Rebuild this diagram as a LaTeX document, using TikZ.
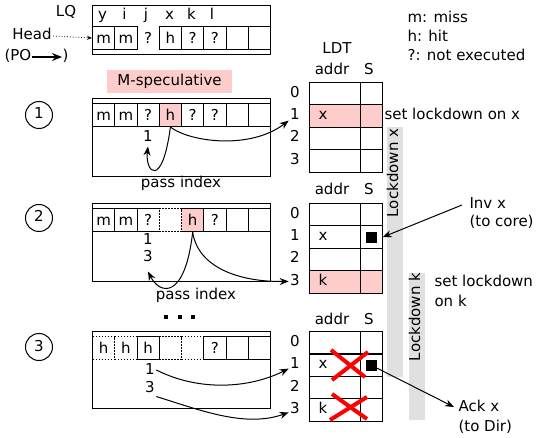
\documentclass[tikz,border=0pt]{standalone}
\usepackage{fontspec}
\setmainfont{DejaVu Sans}
\usetikzlibrary{arrows.meta}
\definecolor{specpink}{RGB}{255,204,204}
\definecolor{bargray}{RGB}{224,224,224}
\begin{document}
\begin{tikzpicture}[x=1pt,y=-1pt,
  font=\fontsize{15}{18}\selectfont,
  line width=1.1pt,
  every node/.style={inner sep=1pt, text height=11pt, text depth=3pt},
  cell/.style={draw, minimum width=22.25pt, minimum height=23pt, inner sep=0pt,
               anchor=north west, text height=11pt, text depth=0pt},
  bare/.style={cell, draw=none},
  pinkcell/.style={cell, fill=specpink},
  dotcell/.style={cell, dash pattern=on 1.5pt off 1.5pt},
  dotgap/.style={dotcell, preaction={draw=white, solid, line width=1.6pt}},
  queue/.style={draw, minimum width=178pt, inner sep=0pt, anchor=north west,
                text height=0pt, text depth=0pt},
  addrc/.style={draw, minimum width=50.5pt, minimum height=22.4pt, inner sep=0pt,
                anchor=north west, text height=0pt, text depth=0pt},
  sc/.style={addrc, minimum width=22pt},
  blk/.style={fill=black, minimum size=11pt, inner sep=0pt, text height=0pt, text depth=0pt},
  dotsq/.style={fill=black, minimum size=4.5pt, inner sep=0pt, text height=0pt, text depth=0pt},
  stepno/.style={circle, draw, line width=1pt, minimum size=27pt, inner sep=0pt},
  bar/.style={fill=bargray, minimum width=16pt, inner sep=0pt, anchor=north west,
              text height=0pt, text depth=0pt},
  arr/.style={-{Stealth[length=9pt,width=7pt]}, line width=1pt},
  redx/.style={red, line width=4pt}
]
\useasboundingbox (0,0) rectangle (538,438);

% lockdown periods (background)
\node[bar, minimum height=250pt] (barx) at (386,126) {};
\node[bar, minimum height=147pt] (bark) at (408,272) {};
\node[rotate=90] (ldx) at (394,173) {Lockdown x};
\node[rotate=90] (ldk) at (416,317) {Lockdown k};

% ---------- load queue in program order ----------
\node (lqname) at (66,13) {LQ};
\node[queue, minimum height=49pt] (lq0) at (92,5) {};
\node (ny) at (102.5,16) {y};
\node (ni) at (124.5,16) {i};
\node (nj) at (146,16) {j};
\node (nx) at (169.5,16) {x};
\node (nk) at (191.5,16) {k};
\node (nl) at (212,16) {l};
\node[cell] (q0a) at (92,26) {m};
\node[cell] (q0b) at (114.25,26) {m};
\node[bare] (q0c) at (136.5,26) {?};
\node[cell] (q0d) at (158.75,26) {h};
\node[cell] (q0e) at (181,26) {?};
\node[cell] (q0f) at (203.25,26) {?};
\node[cell] (q0g) at (225.5,26) {};
\node[cell] (q0h) at (247.75,26) {};
\node (head) at (32,36) {Head};
\draw[line width=0.8pt, dotted, -{Stealth[length=5pt,width=4pt]}] (head.east) -- (q0a.west);
\node[anchor=west, inner sep=0pt] (po) at (4,57) {(PO};
\node[anchor=east, inner sep=0pt] (pc) at (69,57) {)};
\draw[line width=1.3pt, -{Stealth[length=10pt,width=8pt]}] (po.east) -- (pc.west);

% legend
\node[anchor=west] (lgm) at (406,19) {m: miss};
\node[anchor=west] (lgh) at (406,38) {h: hit};
\node[anchor=west] (lgq) at (406,57) {?: not executed};

\node[fill=specpink, minimum width=125pt, minimum height=23pt, inner sep=0pt] (mspec) at (169.5,81.5) {M-speculative};

% ---------- lockdown table header ----------
\node (ldt) at (337,50) {LDT};
\node (ha1) at (332,71) {addr};
\node (hs1) at (369,71) {S};

% ---------- step 1 ----------
\node[stepno] (s1) at (39,115) {1};
\node[queue, minimum height=78pt] (lq1) at (92,98) {};
\node[cell] (c1a) at (92,103) {m};
\node[cell] (c1b) at (114.25,103) {m};
\node[cell] (c1c) at (136.5,103) {?};
\node[pinkcell] (h1) at (158.75,103) {h};
\node[cell] (c1e) at (181,103) {?};
\node[cell] (c1f) at (203.25,103) {?};
\node[cell] (c1g) at (225.5,103) {};
\node[cell] (c1h) at (247.75,103) {};
\node (p1a) at (148,138) {1};
\node (pi1) at (181,184) {pass index};

\node[addrc] (a10) at (309,82) {};
\node[sc] (b10) at (359.5,82) {};
\node[addrc, fill=specpink] (a11) at (309,104.4) {};
\node[sc, fill=specpink] (b11) at (359.5,104.4) {};
\node[addrc] (a12) at (309,126.8) {};
\node[sc] (b12) at (359.5,126.8) {};
\node[addrc] (a13) at (309,149.2) {};
\node[sc] (b13) at (359.5,149.2) {};
\node (r10) at (295,93.2) {0};
\node (r11) at (295,115.6) {1};
\node (r12) at (295,138) {2};
\node (r13) at (295,160.4) {3};
\node (x1) at (323,115.6) {x};
\node[anchor=west] (setx) at (383,116) {set lockdown on x};

\draw[arr] (h1.south) .. controls (162,190) and (145,172) .. (p1a.south);
\draw[arr] (h1.south) .. controls (190,142) and (250,150) .. ([yshift=-5pt]r11.west);

% ---------- step 2 ----------
\node[stepno] (s2) at (39,218) {2};
\node (ha2) at (332,191) {addr};
\node (hs2) at (369,191) {S};
\node[queue, minimum height=78pt] (lq2) at (92,203) {};
\node[cell] (c2a) at (92,208) {m};
\node[cell] (c2b) at (114.25,208) {m};
\node[cell] (c2c) at (136.5,208) {?};
\node[pinkcell] (h2) at (181,208) {h};
\node[cell] (c2f) at (203.25,208) {?};
\node[cell] (c2g) at (225.5,208) {};
\node[cell] (c2h) at (247.75,208) {};
\node[dotgap] (c2d) at (158.75,208) {};
\node (p2a) at (148,241) {1};
\node (p2b) at (148,258) {3};
\node (pi2) at (196,295) {pass index};

\node[addrc] (a20) at (309,203) {};
\node[sc] (b20) at (359.5,203) {};
\node[addrc] (a21) at (309,225.4) {};
\node[sc] (b21) at (359.5,225.4) {};
\node[addrc] (a22) at (309,247.8) {};
\node[sc] (b22) at (359.5,247.8) {};
\node[addrc, fill=specpink] (a23) at (309,270.2) {};
\node[sc, fill=specpink] (b23) at (359.5,270.2) {};
\node (r20) at (295,214.2) {0};
\node (r21) at (295,236.6) {1};
\node (r22) at (295,259) {2};
\node (r23) at (295,281.4) {3};
\node (x2) at (323,236.6) {x};
\node (k2) at (323,281.4) {k};
\node[blk] (sq2) at (b21.center) {};

\node[anchor=west] (inv) at (468,205) {Inv x};
\node[anchor=west] (invb) at (468,223) {(to core)};
\draw[arr] ([xshift=-6pt]inv.west) -- (b21.east);
\node[anchor=west] (setk) at (433,283) {set lockdown};
\node[anchor=west] (setk2) at (433,303) {on k};

\draw[arr] (h2.south) .. controls (185,300) and (160,295) .. ([yshift=-5pt]p2b.south);
\draw[arr] (h2.south) .. controls (198,268) and (240,282) .. (r23.west);

% ---------- step 3 ----------
\node[dotsq] (d1) at (166,317) {};
\node[dotsq] (d2) at (180,317) {};
\node[dotsq] (d3) at (193,317) {};

\node[stepno] (s3) at (39,347) {3};
\node (ha3) at (332,320) {addr};
\node (hs3) at (369,320) {S};
\node[queue, minimum height=77pt] (lq3) at (92,331) {};
\node[dotcell] (c3a) at (92,336) {h};
\node[dotcell] (c3b) at (114.25,336) {h};
\node[dotcell] (c3d) at (158.75,336) {};
\node[dotcell] (c3e) at (181,336) {};
\node[cell] (c3c) at (136.5,336) {h};
\node[cell] (c3f) at (203.25,336) {?};
\node[cell] (c3g) at (225.5,336) {};
\node[cell] (c3h) at (247.75,336) {};
\node (p3a) at (150,370) {1};
\node (p3b) at (150,388) {3};

\node[addrc] (a30) at (309,331) {};
\node[sc] (b30) at (359.5,331) {};
\node[addrc] (a31) at (309,353.4) {};
\node[sc] (b31) at (359.5,353.4) {};
\node[addrc] (a32) at (309,375.8) {};
\node[sc] (b32) at (359.5,375.8) {};
\node[addrc] (a33) at (309,398.2) {};
\node[sc] (b33) at (359.5,398.2) {};
\node (r30) at (295,342.2) {0};
\node (r31) at (295,364.6) {1};
\node (r32) at (295,387) {2};
\node (r33) at (295,409.4) {3};
\node (x3) at (323,364.6) {x};
\node (k3) at (323,409.4) {k};
\node[blk] (sq3) at (b31.center) {};

% released entries
\draw[redx] (331,350) -- (365,377);
\draw[redx] (332,380) -- (368,352);
\draw[redx] (332,394) -- (367,419);
\draw[redx] (330,420) -- (367,397);

\node[anchor=west] (ack) at (457,407) {Ack x};
\node[anchor=west] (ackb) at (457,427) {(to Dir)};
\draw[arr] (sq3.center) -- ([xshift=-3pt]ack.west);

\draw[arr] (p3a.east) .. controls (200,392) and (250,388) .. ([yshift=-4pt]r31.west);
\draw[arr] (p3b.south east) .. controls (200,410) and (245,428) .. ([yshift=-3pt]r33.west);
\end{tikzpicture}
\end{document}
